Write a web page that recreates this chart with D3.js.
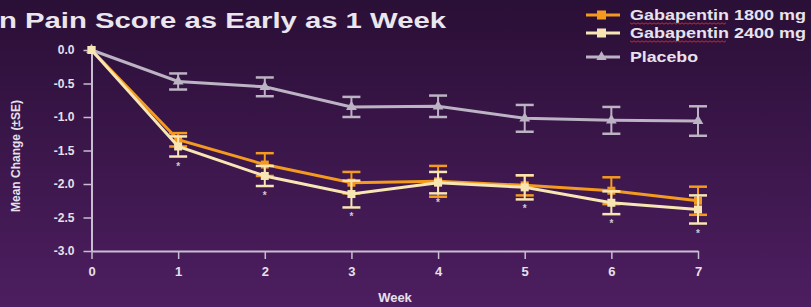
<!DOCTYPE html>
<html>
<head>
<meta charset="utf-8">
<style>
body { margin: 0; background: #2b1038; }
svg { display: block; }
text { font-family: "Liberation Sans", Arial, sans-serif; font-weight: bold; }
</style>
</head>
<body>
<svg width="811" height="307"></svg>
<script src="https://d3js.org/d3.v7.min.js"></script>
<script>
var weeks = [0, 1, 2, 3, 4, 5, 6, 7];
var gaba1800 = [0, -1.34, -1.71, -1.98, -1.96, -2.02, -2.10, -2.25];
var gaba1800se = [0, 0.10, 0.17, 0.16, 0.23, 0.15, 0.20, 0.21];
var gaba2400 = [0, -1.44, -1.88, -2.15, -1.98, -2.05, -2.28, -2.38];
var gaba2400se = [0, 0.15, 0.15, 0.20, 0.16, 0.18, 0.17, 0.21];
var placebo = [0, -0.47, -0.55, -0.85, -0.84, -1.02, -1.05, -1.06];
var placeboSe = [0, 0.12, 0.14, 0.15, 0.16, 0.20, 0.20, 0.22];
var yTicks = [0, -0.5, -1, -1.5, -2, -2.5, -3];
var starWeeks = [1, 2, 3, 4, 5, 6, 7];

var svg = d3.select('svg');

// background gradient
var grad = svg.append('defs').append('linearGradient').attr('id', 'bg')
  .attr('x1', 0).attr('y1', 0).attr('x2', 0).attr('y2', 1);
grad.append('stop').attr('offset', '0%').attr('stop-color', '#2a0f36');
grad.append('stop').attr('offset', '100%').attr('stop-color', '#4d1e60');
svg.append('rect').attr('width', 811).attr('height', 307).attr('fill', 'url(#bg)');

var x = d3.scaleLinear().domain([0, 7]).range([91.5, 698]);
var y = d3.scaleLinear().domain([-3, 0]).range([251, 50]);

// title (cut off at the left edge)
svg.append('text').attr('x', -1).attr('y', 28)
  .attr('fill', '#ebe6ee').style('font-size', '22px')
  .attr('textLength', 447).attr('lengthAdjust', 'spacingAndGlyphs')
  .text('n Pain Score as Early as 1 Week');

var axisCol = '#c9bdd2';

// y axis
var yAxis = svg.append('g').attr('transform', 'translate(91.5,0)')
  .call(d3.axisLeft(y).tickValues(yTicks).tickFormat(d3.format('.1f')).tickSize(8).tickSizeOuter(0));
yAxis.select('.domain').attr('stroke', axisCol).attr('stroke-width', 2);
yAxis.selectAll('line').attr('stroke', axisCol).attr('stroke-width', 1.5);
yAxis.selectAll('text').attr('fill', '#e6e0ea').style('font-size', '12px')
  .attr('x', -17).attr('font-family', null)
  .text(function(d) { return d3.format('.1f')(d).replace('−', '-'); });

// x axis
var xAxis = svg.append('g').attr('transform', 'translate(0,251)')
  .call(d3.axisBottom(x).tickValues(weeks).tickFormat(d3.format('d')).tickSize(8).tickSizeOuter(0));
xAxis.select('.domain').attr('stroke', axisCol).attr('stroke-width', 2);
xAxis.selectAll('line').attr('stroke', axisCol).attr('stroke-width', 1.5);
xAxis.selectAll('text').attr('fill', '#e6e0ea').style('font-size', '13px')
  .attr('y', 16).attr('font-family', null);

svg.append('text').attr('x', 395).attr('y', 302).attr('text-anchor', 'middle')
  .attr('fill', '#e6e0ea').style('font-size', '13px').text('Week');

svg.append('text').attr('transform', 'translate(20,156) rotate(-90)')
  .attr('text-anchor', 'middle').attr('fill', '#e6e0ea').style('font-size', '12px')
  .text('Mean Change (±SE)');

var series = [
  { name: 'Placebo', vals: placebo, se: placeboSe, color: '#bcb3c4', marker: 'tri' },
  { name: 'Gabapentin 1800 mg', vals: gaba1800, se: gaba1800se, color: '#f39a1f', marker: 'sq' },
  { name: 'Gabapentin 2400 mg', vals: gaba2400, se: gaba2400se, color: '#f7e6b4', marker: 'sq' }
];

var line = d3.line().x(function(d, i) { return x(weeks[i]); }).y(function(d) { return y(d); });

series.forEach(function(s) {
  var g = svg.append('g');
  // error bars
  weeks.forEach(function(w, i) {
    if (!s.se[i]) return;
    var top = y(s.vals[i] + s.se[i]), bot = y(s.vals[i] - s.se[i]), cx = x(w);
    g.append('line').attr('x1', cx).attr('x2', cx).attr('y1', top).attr('y2', bot)
      .attr('stroke', s.color).attr('stroke-width', 2);
    [top, bot].forEach(function(yy) {
      g.append('line').attr('x1', cx - 9).attr('x2', cx + 9).attr('y1', yy).attr('y2', yy)
        .attr('stroke', s.color).attr('stroke-width', 2.5);
    });
  });
  g.append('path').datum(s.vals).attr('d', line).attr('fill', 'none')
    .attr('stroke', s.color).attr('stroke-width', 3);
  weeks.forEach(function(w, i) {
    var cx = x(w), cy = y(s.vals[i]);
    if (s.marker === 'sq') {
      g.append('rect').attr('x', cx - 4).attr('y', cy - 4).attr('width', 8).attr('height', 8)
        .attr('fill', s.color);
    } else {
      g.append('path').attr('d', d3.symbol().type(d3.symbolTriangle).size(50)())
        .attr('transform', 'translate(' + cx + ',' + cy + ')').attr('fill', s.color);
    }
  });
});

// significance asterisks under the 2400 mg bars
starWeeks.forEach(function(w) {
  var i = weeks.indexOf(w);
  svg.append('text').attr('x', x(w)).attr('y', y(gaba2400[i] - gaba2400se[i]) + 13)
    .attr('text-anchor', 'middle').attr('fill', '#d0c8d8').style('font-size', '10px').text('*');
});

// legend
var legend = [
  { name: 'Gabapentin', rest: ' 1800 mg', color: '#f39a1f', marker: 'sq', yy: 15 },
  { name: 'Gabapentin', rest: ' 2400 mg', color: '#f7e6b4', marker: 'sq', yy: 33 },
  { name: 'Placebo', rest: '', color: '#bcb3c4', marker: 'tri', yy: 57 }
];
legend.forEach(function(l) {
  var g = svg.append('g').attr('transform', 'translate(0,' + l.yy + ')');
  g.append('line').attr('x1', 586).attr('x2', 620).attr('y1', 0).attr('y2', 0)
    .attr('stroke', l.color).attr('stroke-width', 3);
  if (l.marker === 'sq') {
    g.append('rect').attr('x', 597).attr('y', -4.5).attr('width', 9).attr('height', 9).attr('fill', l.color);
  } else {
    g.append('path').attr('d', d3.symbol().type(d3.symbolTriangle).size(45)())
      .attr('transform', 'translate(601.5,0)').attr('fill', l.color);
  }
  var t = g.append('text').attr('x', 630).attr('y', 5).attr('fill', '#e8e2ec').style('font-size', '14px');
  if (l.rest) {
    t.attr('textLength', 176).attr('lengthAdjust', 'spacingAndGlyphs');
    t.append('tspan').text(l.name);
    t.append('tspan').text(l.rest);
    // spell-check style wavy underline under "Gabapentin"
    var pts = d3.range(0, 98, 2).map(function(d, k) { return [630 + d, 8 + (k % 2 ? 1.2 : -0.2)]; });
    g.append('path').attr('d', d3.line()(pts)).attr('fill', 'none')
      .attr('stroke', '#d2262c').attr('stroke-width', 1);
  } else {
    t.attr('textLength', 68).attr('lengthAdjust', 'spacingAndGlyphs').text(l.name);
  }
});
</script>
</body>
</html>
